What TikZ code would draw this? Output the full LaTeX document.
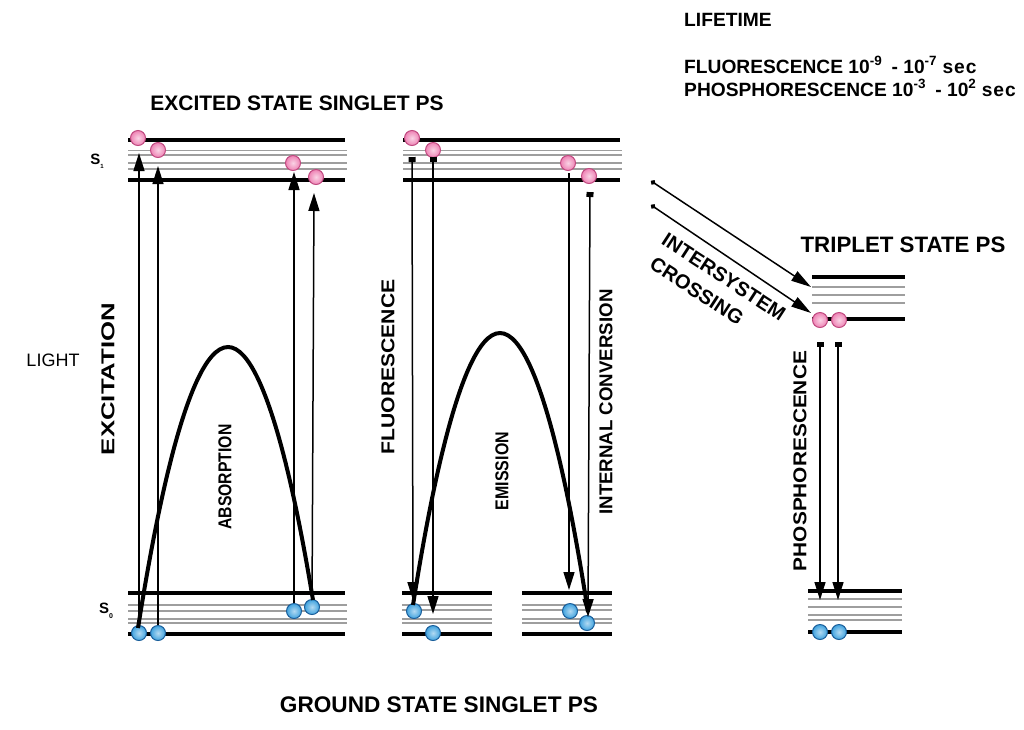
\documentclass[tikz,border=0pt]{standalone}
\usepackage{fontspec}
\setmainfont{Liberation Sans}
\usepackage{graphicx}
\usetikzlibrary{arrows.meta}
\definecolor{pinkedge}{HTML}{C04A80}
\definecolor{pinkfill}{HTML}{EE82B4}
\definecolor{blueedge}{HTML}{1A5E9A}
\definecolor{bluefill}{HTML}{3FA2DE}
\newcommand\myvlab[3]{\resizebox{#1pt}{#2pt}{\bfseries #3}}
\begin{document}
\begin{tikzpicture}[x=1pt,y=-1pt,
  thk/.style={line width=4pt,line cap=butt},
  thn/.style={line width=1.5pt,draw=black!38},
  pball/.style={circle,minimum size=15pt,inner sep=0pt,draw=pinkedge,line width=1pt,inner color=pinkfill!35!white,outer color=pinkfill},
  bball/.style={circle,minimum size=15pt,inner sep=0pt,draw=blueedge,line width=1pt,inner color=bluefill!40!white,outer color=bluefill},
  arr/.style={line width=1.5pt,arrows={-Triangle[length=18pt,width=11pt]}},
  sqarr/.style={line width=1.5pt,arrows={Square[length=5pt,width=7pt]-Triangle[length=18pt,width=11pt]}},
  dotarr/.style={line width=1.5pt,arrows={Circle[length=5pt]-Triangle[length=20pt,width=11pt]}},
  arc/.style={line width=4pt},
  vlab/.style={rotate=90,inner sep=0pt},
  title/.style={font=\fontsize{21}{24}\selectfont\bfseries,inner sep=0pt},
  life/.style={font=\fontsize{19.2}{21}\selectfont\bfseries,inner sep=0pt,anchor=base west},
  isc/.style={inner sep=0pt,rotate=-33,anchor=west,font=\fontsize{20}{22}\selectfont\bfseries}]
\useasboundingbox (0,0) rectangle (1024,729);
% ---------- levels: left panel ----------
\foreach \y in {150.5,155,163,169} \draw[thn] (128,\y) -- (347,\y);
\draw[thk] (128,140) -- (345,140);
\draw[thk] (128,180) -- (345,180);
\foreach \y in {605,611,619,623} \draw[thn] (128,\y) -- (347,\y);
\draw[thk] (128,593) -- (345,593);
\draw[thk] (128,634) -- (345,634);
% ---------- levels: middle panel ----------
\foreach \y in {150.5,155,163,169} \draw[thn] (403,\y) -- (622,\y);
\draw[thk] (403,140) -- (620,140);
\draw[thk] (403,180) -- (620,180);
\foreach \y in {605,610,619,623} {\draw[thn] (402,\y) -- (492,\y); \draw[thn] (522,\y) -- (612,\y);}
\draw[thk] (402,593) -- (492,593);
\draw[thk] (402,634) -- (492,634);
\draw[thk] (522,593) -- (612,593);
\draw[thk] (522,634) -- (612,634);
% ---------- levels: triplet ----------
\foreach \y in {287,295,303} \draw[thn] (812,\y) -- (905,\y);
\draw[thk] (812,277) -- (905,277);
\draw[thk] (812,319) -- (905,319);
\foreach \y in {599,607,615,620} \draw[thn] (808,\y) -- (902,\y);
\draw[thk] (808,591) -- (902,591);
\draw[thk] (808,632) -- (902,632);
% ---------- balls ----------
\node[pball] (pl1) at (138,138) {};
\node[pball] (pl2) at (158,150) {};
\node[pball] (pl3) at (293,163) {};
\node[pball] (pl4) at (316,177) {};
\node[pball] (pm1) at (412,138) {};
\node[pball] (pm2) at (433,150) {};
\node[pball] (pm3) at (568,163) {};
\node[pball] (pm4) at (589,176) {};
\node[pball] (pt1) at (820,320) {};
\node[pball] (pt2) at (839,320) {};
\node[bball] (bl1) at (139,633) {};
\node[bball] (bl2) at (158,633) {};
\node[bball] (bl3) at (294,611) {};
\node[bball] (bl4) at (312,607) {};
\node[bball] (bm1) at (414,611) {};
\node[bball] (bm2) at (433,633) {};
\node[bball] (bm3) at (570,611) {};
\node[bball] (bm4) at (587,623) {};
\node[bball] (bt1) at (820,632) {};
\node[bball] (bt2) at (839,632) {};
% ---------- arrow end points ----------
\coordinate (ta1) at (139,153);
\coordinate (ta2) at (158,166);
\coordinate (ta3) at (294,172);
\coordinate (ta4) at (314,193);
\coordinate (sf1) at (412,157);
\coordinate (tf1) at (413,600);
\coordinate (sf2) at (433,157);
\coordinate (tf2) at (433,614);
\coordinate (sf3) at (569,173);
\coordinate (tf3) at (569,590);
\coordinate (sf4) at (590,192);
\coordinate (tf4) at (588,617);
\coordinate (si1) at (651,181);
\coordinate (ti1) at (811,287);
\coordinate (si2) at (651,205);
\coordinate (ti2) at (811,313);
\coordinate (sp1) at (820,342);
\coordinate (tp1) at (820,600);
\coordinate (sp2) at (838,342);
\coordinate (tp2) at (838,600);
\coordinate (al1) at (138,628);
\coordinate (al2) at (313,600);
\coordinate (am1) at (413,605);
\coordinate (am2) at (588,612);
% ---------- arcs ----------
\draw[arc] (al1) parabola bend (228,347) (al2);
\draw[arc] (am1) parabola bend (500,333) (am2);
% ---------- arrows ----------
\draw[arr] (bl1) -- (ta1);
\draw[arr] (bl2) -- (ta2);
\draw[arr] (bl3) -- (ta3);
\draw[arr] (bl4) -- (ta4);
\draw[sqarr] (sf1) -- (tf1);
\draw[sqarr] (sf2) -- (tf2);
\draw[arr] (sf3) -- (tf3);
\draw[sqarr] (sf4) -- (tf4);
\draw[dotarr] (si1) -- (ti1);
\draw[dotarr] (si2) -- (ti2);
\draw[sqarr] (sp1) -- (tp1);
\draw[sqarr] (sp2) -- (tp2);
% ---------- texts ----------
\node[title] (tex) at (297,103) {EXCITED STATE SINGLET PS};
\node[title,font=\fontsize{22.6}{24}\selectfont\bfseries] (tgr) at (439,705) {GROUND STATE SINGLET PS};
\node[title,font=\fontsize{22.3}{24}\selectfont\bfseries] (ttr) at (903,245) {TRIPLET STATE PS};
\node[inner sep=0pt,font=\fontsize{18}{20}\selectfont] (light) at (53,360) {LIGHT};
\node[inner sep=0pt,font=\fontsize{15}{16}\selectfont\bfseries] (s1) at (97,161) {S\raisebox{-4pt}{\fontsize{6}{6}\selectfont 1}};
\node[inner sep=0pt,font=\fontsize{15}{16}\selectfont\bfseries] (s0) at (106,611) {S\raisebox{-5pt}{\fontsize{7}{7}\selectfont 0}};
\node[vlab] (lexc) at (108,379) {\myvlab{152}{13}{EXCITATION}};
\node[vlab] (labs) at (225,477) {\myvlab{105}{13}{ABSORPTION}};
\node[vlab] (lflu) at (388,367) {\myvlab{175}{13}{FLUORESCENCE}};
\node[vlab] (lemi) at (502,471) {\myvlab{78}{13}{EMISSION}};
\node[vlab] (lint) at (606,402) {\myvlab{225}{13}{INTERNAL CONVERSION}};
\node[vlab] (lpho) at (800,461) {\myvlab{220}{13}{PHOSPHORESCENCE}};
\node[isc] (lint1) at (664,238) {INTERSYSTEM};
\node[isc] (lint2) at (652,262) {CROSSING};
\node[life] (lt0) at (684,26) {LIFETIME};
\node[life] (lt1) at (684,73) {FLUORESCENCE 10\textsuperscript{-9}\hspace{4pt} - 10\textsuperscript{-7} s\hspace{1pt}e\hspace{1pt}c};
\node[life] (lt2) at (684,96) {PHOSPHORESCENCE 10\textsuperscript{-3}\hspace{4pt} - 10\textsuperscript{2} s\hspace{1pt}e\hspace{1pt}c};
\end{tikzpicture}
\end{document}
